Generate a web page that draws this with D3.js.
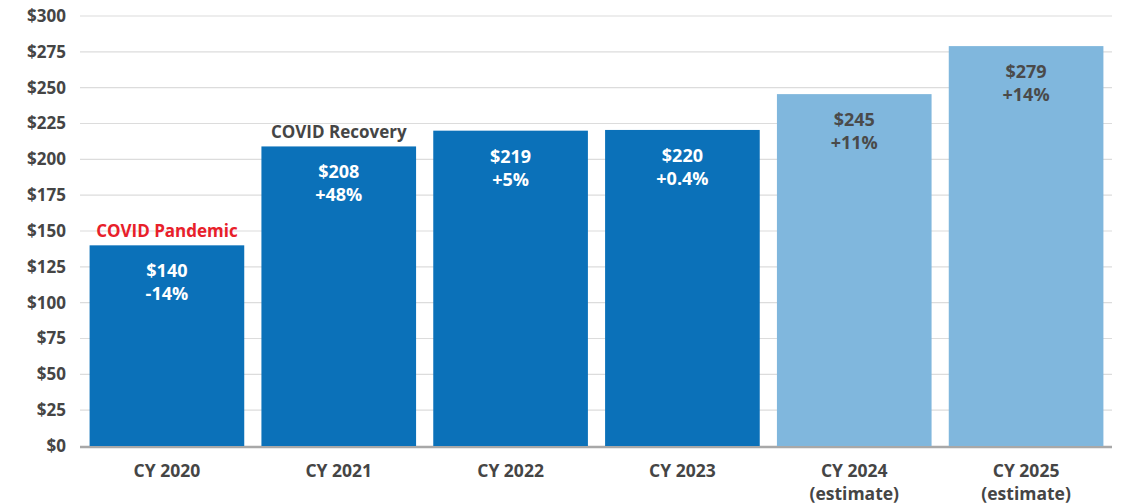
<!DOCTYPE html>
<html><head><meta charset="utf-8">
<script src="https://cdn.jsdelivr.net/npm/d3@7"></script>
<style>
html,body{margin:0;padding:0;background:#fff;}
text{font-family:"Open Sans",sans-serif;font-weight:700;}
</style></head>
<body><svg id="c" width="1123" height="504"></svg>
<script>
const categories = ["CY 2020","CY 2021","CY 2022","CY 2023","CY 2024","CY 2025"];
const subLabels = ["","","","","(estimate)","(estimate)"];
const values = [140, 209, 220, 220.5, 245.5, 279];
const valueLabels = ["$140","$208","$219","$220","$245","$279"];
const changeLabels = ["-14%","+48%","+5%","+0.4%","+11%","+14%"];
const isEstimate = [false,false,false,false,true,true];
const annotations = [{cat:"CY 2020", text:"COVID Pandemic", color:"#e8202a"},
                     {cat:"CY 2021", text:"COVID Recovery", color:"#454545"}];
const yTicks = [0,25,50,75,100,125,150,175,200,225,250,275,300];

const svg = d3.select("#c");
const L = 80, R = 1112, T = 16, B = 446;
const x = d3.scaleBand().domain(categories).range([L+1, R]).paddingInner(0.1).paddingOuter(0.05);
const y = d3.scaleLinear().domain([0,300]).range([B, T]);

// grid
svg.append("g").selectAll("line").data(yTicks.filter(d=>d>0)).join("line")
  .attr("x1", L).attr("x2", R).attr("y1", d=>y(d)).attr("y2", d=>y(d))
  .attr("stroke", "#dcdcdc").attr("stroke-width", 1.2);

// y axis
const yAxis = svg.append("g").attr("transform", `translate(${L},0)`)
  .call(d3.axisLeft(y).tickValues(yTicks).tickFormat(d=>"$"+d).tickSize(0).tickPadding(14));
yAxis.select(".domain").remove();
yAxis.selectAll("text").attr("font-size", 17).attr("fill", "#454545")
  .style("font-family","'Open Sans',sans-serif").style("font-weight","700");

// baseline
svg.append("line").attr("x1", L).attr("x2", R).attr("y1", B+1).attr("y2", B+1)
  .attr("stroke", "#a8a8a8").attr("stroke-width", 2.5);

// bars
svg.append("g").selectAll("rect").data(categories).join("rect")
  .attr("x", d=>x(d)).attr("width", x.bandwidth())
  .attr("y", (d,i)=>y(values[i])).attr("height", (d,i)=>B - y(values[i]))
  .attr("fill", (d,i)=>isEstimate[i] ? "#80b7dd" : "#0b71b9");

// bar labels
const lab = svg.append("g").selectAll("g").data(categories).join("g");
lab.append("text").attr("x", d=>x(d)+x.bandwidth()/2).attr("y", (d,i)=>y(values[i])+32)
  .attr("text-anchor","middle").attr("font-size",18)
  .attr("fill",(d,i)=>isEstimate[i] ? "#4a4a4a" : "#fff").text((d,i)=>valueLabels[i]);
lab.append("text").attr("x", d=>x(d)+x.bandwidth()/2).attr("y", (d,i)=>y(values[i])+55)
  .attr("text-anchor","middle").attr("font-size",18)
  .attr("fill",(d,i)=>isEstimate[i] ? "#4a4a4a" : "#fff").text((d,i)=>changeLabels[i]);

// annotations
svg.append("g").selectAll("text").data(annotations).join("text")
  .attr("x", d=>x(d.cat)+x.bandwidth()/2)
  .attr("y", d=>y(values[categories.indexOf(d.cat)])-8)
  .attr("text-anchor","middle").attr("font-size",17).attr("fill", d=>d.color).text(d=>d.text);

// x labels
const xl = svg.append("g").selectAll("text").data(categories).join("text")
  .attr("x", d=>x(d)+x.bandwidth()/2).attr("y", 477)
  .attr("text-anchor","middle").attr("font-size",17.5).attr("fill","#454545");
xl.append("tspan").attr("x", d=>x(d)+x.bandwidth()/2).text(d=>d);
xl.append("tspan").attr("x", d=>x(d)+x.bandwidth()/2).attr("dy", 22.5).text((d,i)=>subLabels[i]);
</script></body></html>
